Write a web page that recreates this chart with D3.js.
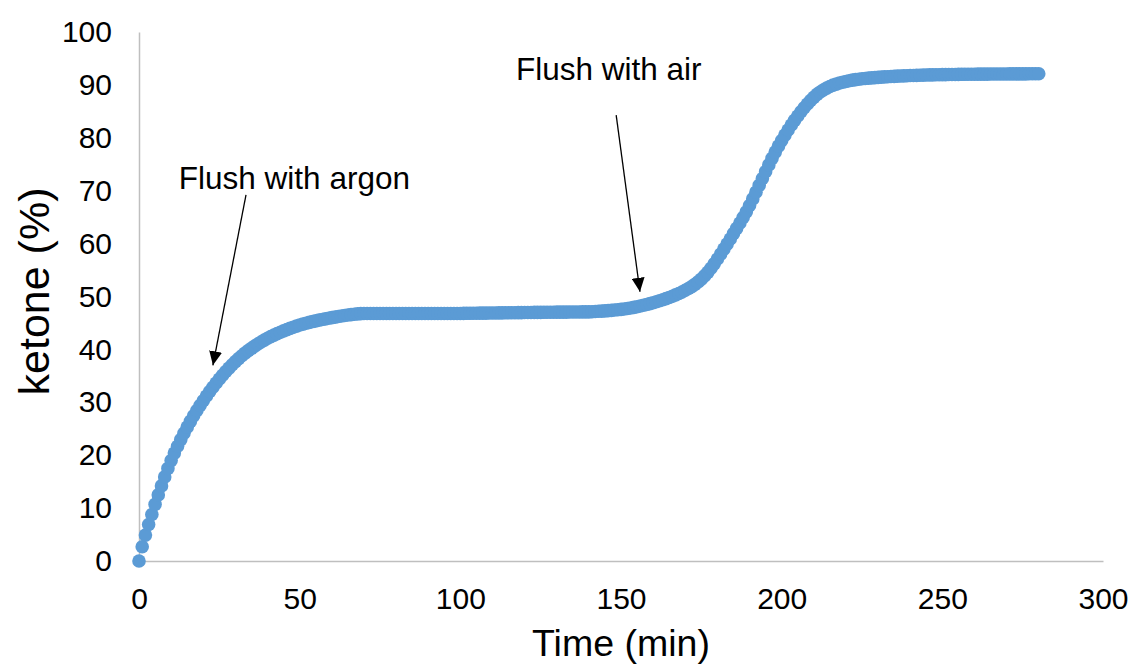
<!DOCTYPE html>
<html>
<head>
<meta charset="utf-8">
<script src="https://cdn.jsdelivr.net/npm/d3@7"></script>
<style>
  body { margin: 0; background: #fff; }
  text { font-family: Arial, "Liberation Sans", sans-serif; fill: #000; }
</style>
</head>
<body>
<div id="chart"></div>
<script>
// sampling time, minutes
var minutes = [
  0, 1, 2, 3, 4, 5, 6, 7, 8, 9, 10, 11, 12, 13, 14, 15, 16, 17, 18, 19,
  20, 21, 22, 23, 24, 25, 26, 27, 28, 29, 30, 31, 32, 33, 34, 35, 36, 37, 38, 39,
  40, 41, 42, 43, 44, 45, 46, 47, 48, 49, 50, 51, 52, 53, 54, 55, 56, 57, 58, 59,
  60, 61, 62, 63, 64, 65, 66, 67, 68, 69, 70, 71, 72, 73, 74, 75, 76, 77, 78, 79,
  80, 81, 82, 83, 84, 85, 86, 87, 88, 89, 90, 91, 92, 93, 94, 95, 96, 97, 98, 99,
  100, 101, 102, 103, 104, 105, 106, 107, 108, 109, 110, 111, 112, 113, 114, 115, 116, 117, 118, 119,
  120, 121, 122, 123, 124, 125, 126, 127, 128, 129, 130, 131, 132, 133, 134, 135, 136, 137, 138, 139,
  140, 141, 142, 143, 144, 145, 146, 147, 148, 149, 150, 151, 152, 153, 154, 155, 156, 157, 158, 159,
  160, 161, 162, 163, 164, 165, 166, 167, 168, 169, 170, 171, 172, 173, 174, 175, 176, 177, 178, 179,
  180, 181, 182, 183, 184, 185, 186, 187, 188, 189, 190, 191, 192, 193, 194, 195, 196, 197, 198, 199,
  200, 201, 202, 203, 204, 205, 206, 207, 208, 209, 210, 211, 212, 213, 214, 215, 216, 217, 218, 219,
  220, 221, 222, 223, 224, 225, 226, 227, 228, 229, 230, 231, 232, 233, 234, 235, 236, 237, 238, 239,
  240, 241, 242, 243, 244, 245, 246, 247, 248, 249, 250, 251, 252, 253, 254, 255, 256, 257, 258, 259,
  260, 261, 262, 263, 264, 265, 266, 267, 268, 269, 270, 271, 272, 273, 274, 275, 276, 277, 278, 279,
  280
];

// ketone yield (%), one value per minute above
var ketone = [
  0, 2.7, 4.9, 6.9, 8.8, 10.7, 12.5, 14.2, 15.9, 17.5,                      // 0
  19.0, 20.4, 21.7, 22.95, 24.15, 25.3, 26.4, 27.45, 28.45, 29.4,           // 10
  30.3, 31.18, 32.03, 32.85, 33.64, 34.4, 35.12, 35.81, 36.47, 37.1,        // 20
  37.7, 38.26, 38.79, 39.29, 39.76, 40.2, 40.62, 41.02, 41.4, 41.76,        // 30
  42.1, 42.41, 42.7, 42.98, 43.25, 43.5, 43.74, 43.97, 44.19, 44.4,         // 40
  44.6, 44.78, 44.95, 45.11, 45.26, 45.4, 45.53, 45.65, 45.77, 45.89,       // 50
  46.0, 46.11, 46.21, 46.31, 46.41, 46.5, 46.58, 46.65, 46.71, 46.76,       // 60
  46.8, 46.8, 46.8, 46.8, 46.8, 46.8, 46.8, 46.8, 46.8, 46.8,               // 70 argon
  46.8, 46.8, 46.8, 46.8, 46.8, 46.8, 46.8, 46.8, 46.8, 46.8,               // 80
  46.8, 46.8, 46.8, 46.8, 46.8, 46.8, 46.8, 46.8, 46.8, 46.8,               // 90
  46.8, 46.81, 46.82, 46.82, 46.83, 46.84, 46.85, 46.85, 46.86, 46.87,      // 100
  46.88, 46.89, 46.9, 46.91, 46.92, 46.93, 46.93, 46.94, 46.95, 46.96,      // 110
  46.97, 46.98, 46.98, 46.99, 47.0, 47.0, 47.01, 47.02, 47.02, 47.03,       // 120
  47.04, 47.04, 47.05, 47.05, 47.06, 47.06, 47.07, 47.08, 47.09, 47.1,      // 130
  47.1, 47.13, 47.16, 47.2, 47.24, 47.28, 47.33, 47.38, 47.44, 47.5,        // 140 air
  47.57, 47.65, 47.74, 47.84, 47.95, 48.07, 48.2, 48.34, 48.49, 48.65,      // 150
  48.82, 49.0, 49.19, 49.39, 49.6, 49.82, 50.05, 50.3, 50.57, 50.86,        // 160
  51.17, 51.5, 51.87, 52.29, 52.76, 53.29, 53.89, 54.57, 55.33, 56.17,      // 170
  57.08, 58.0, 58.95, 59.9, 60.88, 61.88, 62.88, 63.9, 64.94, 66.0,         // 180
  67.2, 68.45, 69.72, 71.0, 72.3, 73.6, 74.88, 76.12, 77.3, 78.42,          // 190
  79.48, 80.5, 81.48, 82.42, 83.3, 84.13, 84.92, 85.67, 86.38, 87.05,       // 200
  87.65, 88.2, 88.65, 89.05, 89.4, 89.7, 89.95, 90.15, 90.35, 90.5,         // 210
  90.65, 90.78, 90.9, 91.0, 91.08, 91.15, 91.22, 91.28, 91.33, 91.38,       // 220
  91.43, 91.47, 91.51, 91.55, 91.59, 91.62, 91.65, 91.68, 91.71, 91.74,     // 230
  91.77, 91.79, 91.81, 91.83, 91.85, 91.87, 91.89, 91.9, 91.92, 91.93,      // 240
  91.94, 91.95, 91.96, 91.97, 91.98, 91.99, 92.0, 92.0, 92.01, 92.02,       // 250
  92.02, 92.03, 92.03, 92.04, 92.04, 92.05, 92.05, 92.06, 92.06, 92.07,     // 260
  92.07, 92.08, 92.08, 92.08, 92.09, 92.09, 92.09, 92.1, 92.1, 92.1,        // 270
  92.1                                                                      // 280
];

var xTicks = [0, 50, 100, 150, 200, 250, 300];
var yTicks = [0, 10, 20, 30, 40, 50, 60, 70, 80, 90, 100];

// annotation text + arrow (in data units: minutes / %)
var noteLabels = ["Flush with argon", "Flush with air"];
var noteTextAt = [[12.4, 70.3], [117.3, 91.0]];
var noteArrowFrom = [[33.3, 69.2], [148.5, 84.3]];
var noteArrowTo = [[23, 37], [155.9, 50.9]];

var width = 1130, height = 664;
var margin = { top: 32, right: 27, bottom: 103, left: 139 };

var svg = d3.select("#chart").append("svg")
  .attr("width", width)
  .attr("height", height);

var x = d3.scaleLinear().domain([0, 300]).range([margin.left, width - margin.right]);
var y = d3.scaleLinear().domain([0, 100]).range([height - margin.bottom, margin.top]);

// arrow head
svg.append("defs").append("marker")
  .attr("id", "head")
  .attr("viewBox", "0 0 10 10")
  .attr("refX", 10).attr("refY", 5)
  .attr("markerWidth", 14).attr("markerHeight", 13)
  .attr("markerUnits", "userSpaceOnUse")
  .attr("orient", "auto")
  .attr("preserveAspectRatio", "none")
  .append("path")
  .attr("d", "M0,0 L10,5 L0,10 z")
  .attr("fill", "#000");

// axes: grey lines, no tick marks
var xAxis = svg.append("g")
  .attr("transform", "translate(0," + y(0) + ")")
  .call(d3.axisBottom(x).tickValues(xTicks).tickSize(0).tickPadding(27));
var yAxis = svg.append("g")
  .attr("transform", "translate(" + x(0) + ",0)")
  .call(d3.axisLeft(y).tickValues(yTicks).tickSize(0).tickPadding(27));

[xAxis, yAxis].forEach(function(g) {
  g.select(".domain").attr("stroke", "#bfbfbf").attr("stroke-width", 1.5);
  g.selectAll("text")
    .style("font-family", "Arial, 'Liberation Sans', sans-serif")
    .style("font-size", "30px")
    .attr("fill", "#000");
});
xAxis.selectAll("text").attr("dy", "0.71em");

// series markers
svg.append("g")
  .selectAll("circle")
  .data(minutes)
  .enter()
  .append("circle")
  .attr("cx", function(d) { return x(d); })
  .attr("cy", function(d, i) { return y(ketone[i]); })
  .attr("r", 6.8)
  .attr("fill", "#5b9bd5");

// axis titles
svg.append("text")
  .attr("x", (x(0) + x(300)) / 2)
  .attr("y", 656)
  .attr("text-anchor", "middle")
  .style("font-size", "37.5px")
  .text("Time (min)");

svg.append("text")
  .attr("transform", "translate(49," + (y(50) - 5) + ") rotate(-90)")
  .attr("text-anchor", "middle")
  .style("font-size", "43px")
  .text("ketone (%)");

// annotations
noteLabels.forEach(function(label, i) {
  svg.append("text")
    .attr("x", x(noteTextAt[i][0]))
    .attr("y", y(noteTextAt[i][1]))
    .style("font-size", "31.5px")
    .text(label);
  svg.append("line")
    .attr("x1", x(noteArrowFrom[i][0]))
    .attr("y1", y(noteArrowFrom[i][1]))
    .attr("x2", x(noteArrowTo[i][0]))
    .attr("y2", y(noteArrowTo[i][1]))
    .attr("stroke", "#000")
    .attr("stroke-width", 1.3)
    .attr("marker-end", "url(#head)");
});
</script>
</body>
</html>
